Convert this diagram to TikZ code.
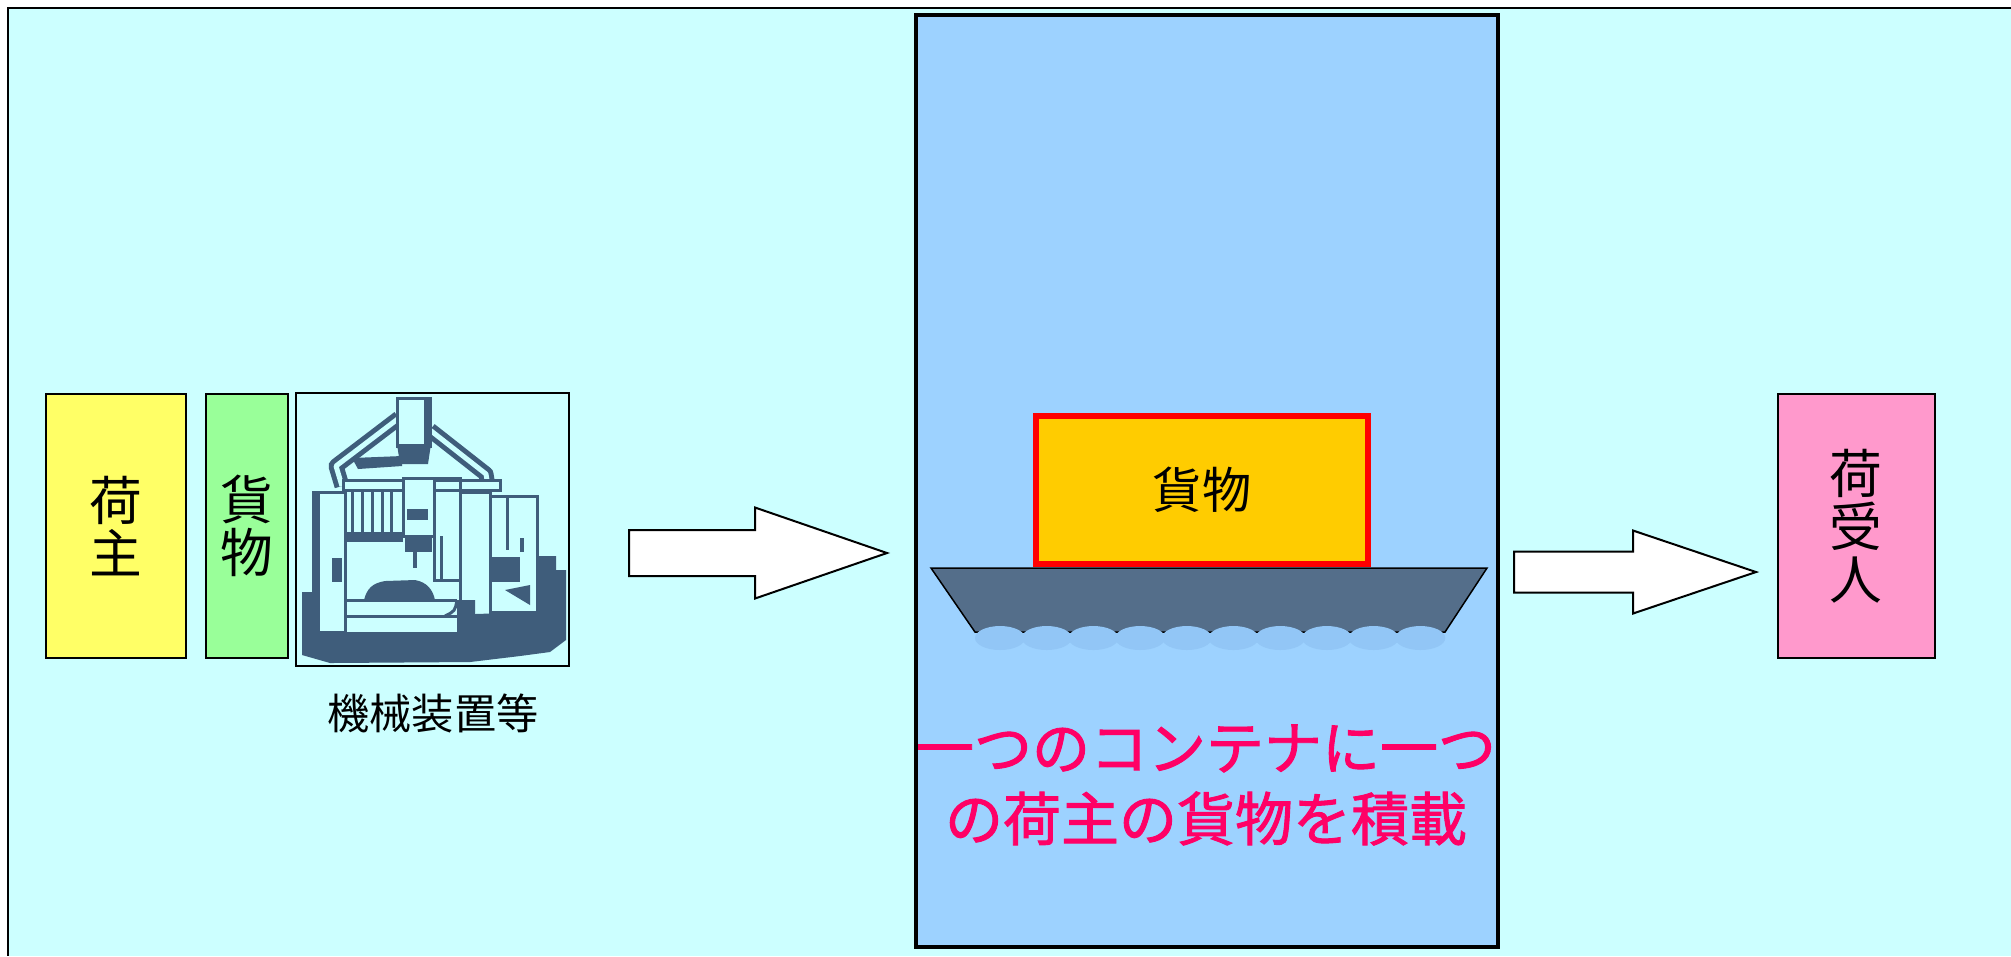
\documentclass[tikz,border=0pt]{standalone}
\usepackage{fontspec}
\newfontfamily\jp{Noto Sans CJK JP}
\newfontfamily\jpnote{Noto Sans CJK JP}[FakeBold=1.6]
\usetikzlibrary{calc}
\definecolor{sky}{HTML}{CCFFFF}
\definecolor{hold}{HTML}{9DD2FF}
\definecolor{wave}{HTML}{92C6F6}
\definecolor{hullgray}{HTML}{546E8A}
\definecolor{machine}{HTML}{3F5D7B}
\definecolor{lemon}{HTML}{FFFF66}
\definecolor{mint}{HTML}{99FF99}
\definecolor{rose}{HTML}{FF99CC}
\definecolor{gold}{HTML}{FFCC00}
\definecolor{note}{HTML}{FF0066}
\tikzset{
  party/.style={draw, line width=0.2mm, inner sep=0pt, align=center,
    minimum height=26.4mm, font=\jp\fontsize{15}{15}\selectfont},
  picframe/.style={draw, line width=0.15mm, inner sep=0pt, minimum size=27.3mm},
  mline/.style={draw=machine, line width=0.3mm},
  bigarrow/.style={draw, fill=white, line width=0.2mm},
  cargo/.style={draw=red, line width=0.6mm, fill=gold, inner sep=0pt,
    minimum width=33.2mm, minimum height=14.8mm, font=\jp\fontsize{14}{14}\selectfont},
  hull/.style={draw, fill=hullgray, line width=0.15mm},
  notetext/.style={text=note, align=center, font=\jpnote\fontsize{16.5}{20.2}\selectfont}
}
\def\bigarrow(#1,#2)(#3:#4:#5:#6){\draw[bigarrow] (#1,{#2-#5}) -- ({#1+#3},{#2-#5}) -- ({#1+#3},{#2-#6}) -- ({#1+#4},#2) -- ({#1+#3},{#2+#6}) -- ({#1+#3},{#2+#5}) -- (#1,{#2+#5}) -- cycle;}
\def\duct#1{\draw[machine, line width=1.5mm, line join=round] #1; \draw[sky, line width=0.5mm, line join=round] #1;}
\begin{document}
\begin{tikzpicture}[x=0.1mm, y=-0.1mm]
			%%%%% START %%%%%
			\useasboundingbox (0,0) rectangle (2011,956);
			\fill[white] (0,0) rectangle (2011,956);
			\fill[sky] (8,8) rectangle (2011,956);
			\draw[line width=0.2mm] (2011,8) -- (8,8) -- (8,956);
			
			\draw[fill=hold, line width=0.4mm] (916,15) rectangle (1498,947);
			
			\node[party, fill=lemon, minimum width=14mm] (shipper) at (116,526) {荷\\主};
			\node[party, fill=mint, minimum width=8.2mm] (goods) at (247,526) {貨\\物};
			\node[party, fill=rose, minimum width=15.7mm] (consignee) at (1856,526) {荷\\受\\人};
			
			% machine tool
			\node[picframe] (machine) at (432.5,529.5) {};
			\duct{(399,418) -- (336,466) -- (342,486)}
			\duct{(430,430) -- (486,474) -- (488,486)}
			\draw[mline, fill=sky] (397,398) rectangle (430,446);
			\fill[machine] (424,398) rectangle (431,446);
			\fill[machine] (397,444) -- (431,444) -- (428,464) -- (400,464) -- cycle;
			\fill[machine] (352,458) -- (402,456) -- (402,466) -- (358,469) -- cycle;
			\draw[mline, fill=sky] (343,480) rectangle (500,490);
			\draw[mline, fill=sky] (313,492) rectangle (345,632);
			\fill[machine] (313,492) rectangle (320,632);
			\fill[machine] (332,558) rectangle (342,582);
			\foreach \cx in {352,362,372,382,391} \draw[mline] (\cx,490) -- (\cx,534);
			\fill[machine] (345,532) rectangle (403,542);
			\draw[mline, fill=sky] (403,478) rectangle (434,536);
			\fill[machine] (407,509) rectangle (428,520);
			\fill[machine] (405,536) rectangle (432,552);
			\fill[machine] (413,552) rectangle (417,568);
			\draw[mline] (434,478) rectangle (460,580);
			\draw[mline] (441,536) -- (441,580) -- (452,580);
			\draw[mline] (460,492) rectangle (490,616);
			\draw[mline] (490,496) rectangle (537,612);
			\draw[mline] (507,496) -- (507,550);
			\fill[machine] (490,557) rectangle (520,582);
			\fill[machine] (520,538) rectangle (524,552);
			\fill[machine] (505,590) -- (530,585) -- (530,605) -- cycle;
			\fill[machine] (364,600) .. controls (367,588) and (373,583) .. (385,581) -- (415,580) .. controls (427,582) and (433,590) .. (435,600) -- cycle;
			\draw[mline] (347,600) -- (457,600);
			\draw[mline] (347,616) -- (457,616);
			\draw[mline] (457,600) .. controls (455,611) .. (445,616);
			\fill[machine] (302,592) -- (313,592) -- (313,632) -- (457,632) -- (457,600) -- (475,600) -- (475,614) -- (537,612) -- (537,556) -- (556,556) -- (556,570) -- (566,570) -- (566,640) -- (550,652) -- (520,656) -- (470,662) -- (330,663) -- (302,655) -- cycle;
			
			\node[font=\jp\fontsize{12}{12}\selectfont] (machinelabel) at (433,713) {機械装置等};
			
			\bigarrow(629,553)(126:258:23:45.5)
			\bigarrow(1514,572)(119:242:20.5:41.5)
			
			% ship and cargo
			\node[cargo] (cargobox) at (1202,490) {貨物};
			\draw[hull] (931,568) -- (1487,568) -- (1445,632) -- (975,632) -- cycle;
			\foreach \i in {0,...,9} \fill[wave] ({1000+46.7*\i},638) ellipse (2.5mm and 1.2mm);
			
			\node[notetext] (loadnote) at (1206,785) {一つのコンテナに一つ\\の荷主の貨物を積載};
			
			%%%%% END %%%%%
\end{tikzpicture}
\end{document}
